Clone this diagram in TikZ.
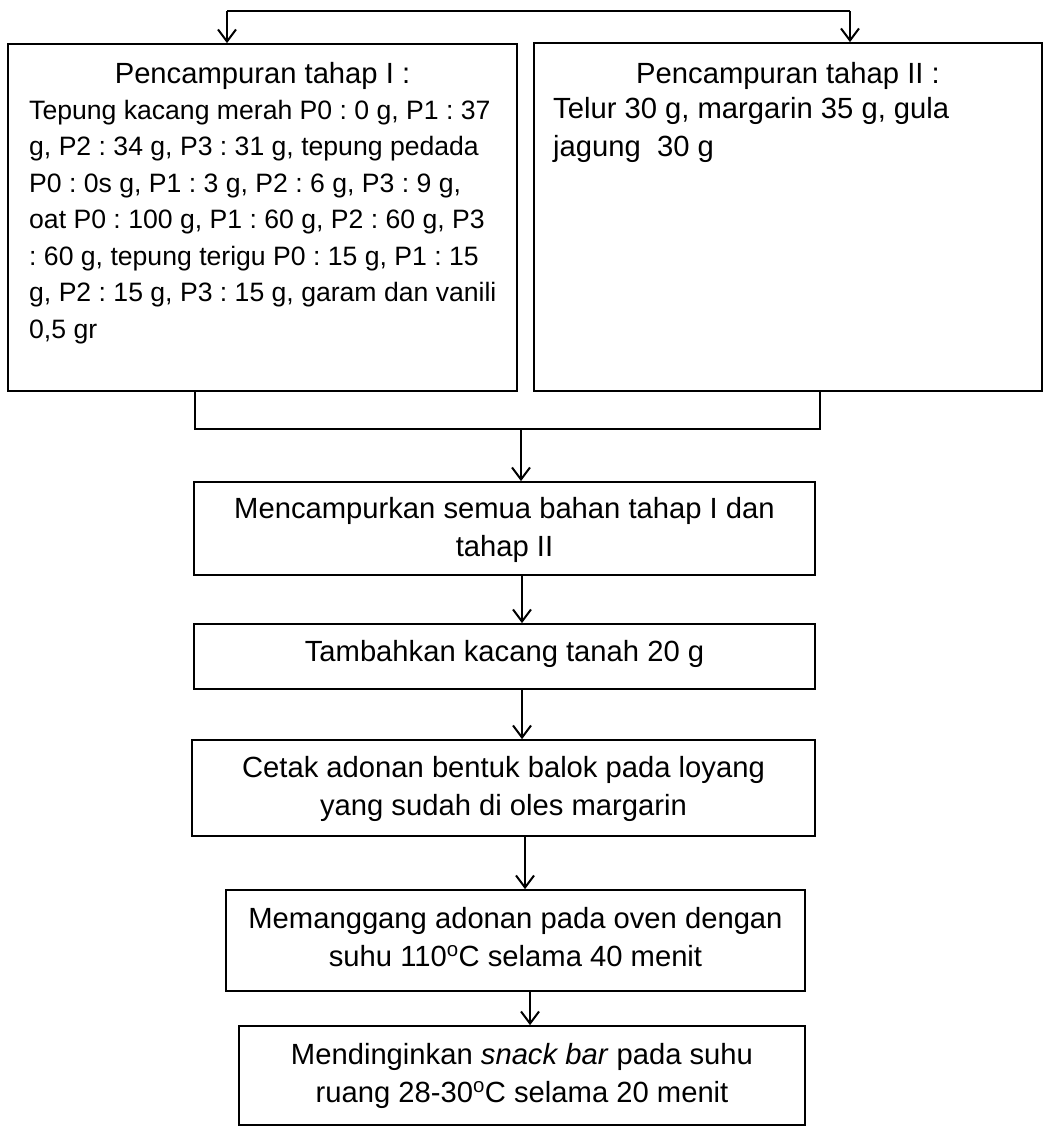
\documentclass[tikz,border=0pt]{standalone}
\usepackage{fontspec}
\setmainfont{Liberation Sans}
\usetikzlibrary{arrows.meta}
\newcommand\fbig{\fontsize{29.2}{38}\selectfont}
\newcommand\fsmall{\fontsize{26.6}{36.5}\selectfont}
\tikzset{
  box/.style={draw, line width=1.7pt, inner sep=0pt},
  conn/.style={line width=2.2pt},
  arr/.style={conn, -{Straight Barb[length=12pt,width=18pt,line width=2pt]}},
  txt/.style={inner sep=0pt, anchor=base},
  txtl/.style={inner sep=0pt, anchor=base west},
}
\frenchspacing
\begin{document}
\frenchspacing
\begin{tikzpicture}[x=1pt, y=-1pt]
\fill[white] (0,0) rectangle (1044,1135);
\useasboundingbox (0,0) rectangle (1044,1135);

% boxes
\node[box, minimum width=509pt, minimum height=347pt] (b1) at (262.5,217.5) {};
\node[box, minimum width=508pt, minimum height=348pt] (b2) at (788,217) {};
\node[box, minimum width=621pt, minimum height=93pt] (b3) at (504.5,528.5) {};
\node[box, minimum width=621pt, minimum height=65pt] (b4) at (504.5,656.5) {};
\node[box, minimum width=623pt, minimum height=96pt] (b5) at (503.5,788) {};
\node[box, minimum width=579pt, minimum height=101pt] (b6) at (515.5,940.5) {};
\node[box, minimum width=566pt, minimum height=99pt] (b7) at (522,1075.5) {};

% texts
\node[txt] (t1h) at (262.5,83) {\fbig Pencampuran tahap I :};
\node[txtl] (t1b) at (29,119) {\parbox[t]{490pt}{\fsmall\frenchspacing\raggedright
  Tepung kacang merah P0 : 0 g, P1 : 37\\
  g, P2 : 34 g, P3 : 31 g, tepung pedada\\
  P0 : 0s g, P1 : 3 g, P2 : 6 g, P3 : 9 g,\\
  oat P0 : 100 g, P1 : 60 g, P2 : 60 g, P3\\
  : 60 g, tepung terigu P0 : 15 g, P1 : 15\\
  g, P2 : 15 g, P3 : 15 g, garam dan vanili\\
  0,5 gr}};
\node[txt] (t2h) at (788,83) {\fbig Pencampuran tahap II :};
\node[txtl] (t2b) at (553,118) {\parbox[t]{480pt}{\fbig\frenchspacing\raggedright
  Telur 30 g, margarin 35 g, gula\\
  jagung\ \ 30 g}};
\node[txt] (t3) at (504.5,518) {\parbox[t]{610pt}{\fbig\centering
  Mencampurkan semua bahan tahap I dan\\ tahap II}};
\node[txt] (t4) at (504.5,661) {\fbig Tambahkan kacang tanah 20 g};
\node[txt] (t5) at (503.5,777) {\parbox[t]{610pt}{\fbig\centering
  Cetak adonan bentuk balok pada loyang\\ yang sudah di oles margarin}};
\node[txt] (t6) at (515.5,928) {\parbox[t]{570pt}{\fbig\centering
  Memanggang adonan pada oven dengan\\ suhu 110\textsuperscript{o}C selama 40 menit}};
\node[txt] (t7) at (522,1064) {\parbox[t]{560pt}{\fbig\centering
  Mendinginkan \textit{snack bar} pada suhu\\ ruang 28-30\textsuperscript{o}C selama 20 menit}};

% connectors
\coordinate (tl) at (227,11);
\coordinate (tr) at (850,11);
\draw[conn] (tl) -- (tr);
\draw[arr] (tl) -- (tl |- b1.north);
\draw[arr] (tr) -- (tr |- b2.north);

\coordinate (jl) at (195,429);
\coordinate (jr) at (820,429);
\coordinate (jm) at (521,429);
\draw[conn] (jl |- b1.south) -- (jl) -- (jr) -- (jr |- b2.south);
\draw[arr] (jm) -- (jm |- b3.north);

\coordinate (x34) at (522,0);
\coordinate (x56) at (525,0);
\coordinate (x67) at (530,0);
\draw[arr] (b3.south -| x34) -- (b4.north -| x34);
\draw[arr] (b4.south -| x34) -- (b5.north -| x34);
\draw[arr] (b5.south -| x56) -- (b6.north -| x56);
\draw[arr] (b6.south -| x67) -- (b7.north -| x67);
\end{tikzpicture}
\end{document}
